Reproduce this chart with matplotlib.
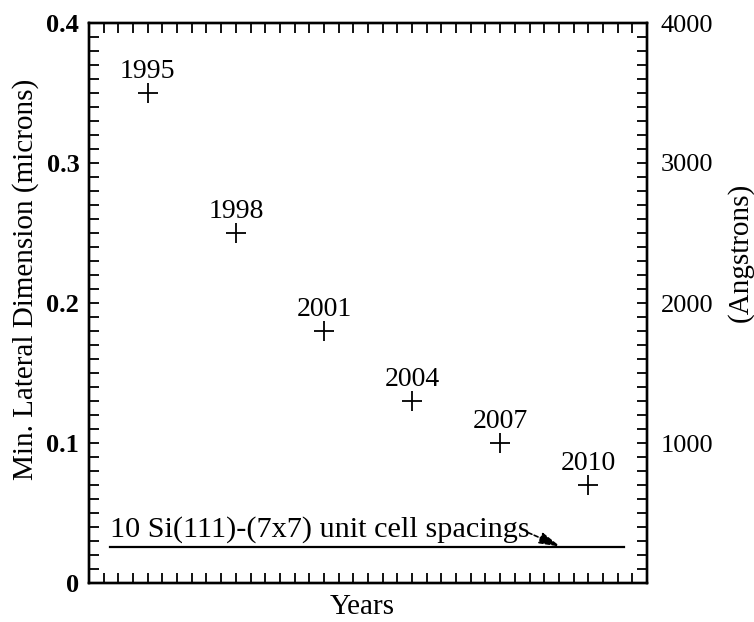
import matplotlib
matplotlib.use("Agg")
import matplotlib.pyplot as plt
from matplotlib.ticker import MultipleLocator, FixedLocator

plt.rcParams['font.family'] = ['Liberation Serif', 'DejaVu Serif']

years = [1995, 1998, 2001, 2004, 2007, 2010]
min_dim_microns = [0.35, 0.25, 0.18, 0.13, 0.10, 0.07]
year_labels = ["1995", "1998", "2001", "2004", "2007", "2010"]
si_line_value = 0.026
si_line_years = [1993.7, 2011.2]
si_text = "10 Si(111)-(7x7) unit cell spacings"
left_ticks = [0, 0.1, 0.2, 0.3, 0.4]
left_tick_labels = ["0", "0.1", "0.2", "0.3", "0.4"]
right_ticks = [1000, 2000, 3000, 4000]
right_tick_labels = ["1000", "2000", "3000", "4000"]

fig = plt.figure(figsize=(7.54, 6.22), dpi=100)
ax = fig.add_axes([89/754, 1-583/622, (647-89)/754, (583-23)/622])

ax.plot(years, min_dim_microns, linestyle='none', marker='+', color='black',
        markersize=14, markeredgewidth=1.3)
for x, y, lab in zip(years, min_dim_microns, year_labels):
    ax.annotate(lab, (x, y), xytext=(0, 11), textcoords='offset points',
                ha='center', va='baseline', fontsize=20)

ax.plot(si_line_years, [si_line_value, si_line_value], color='black', lw=1.6)
ax.text(1993.7, 0.033, si_text, fontsize=21.8, ha='left', va='baseline')
ax.annotate('', xy=(2009.05, si_line_value), xytext=(2007.95, 0.036),
            arrowprops=dict(arrowstyle='-|>,head_length=1.3,head_width=0.35',
                            color='black', lw=1.2, linestyle=(0, (2.5, 1.5)),
                            shrinkA=0, shrinkB=0))

ax.set_xlim(1993, 2012)
ax.set_ylim(0, 0.4)
ax.xaxis.set_major_locator(MultipleLocator(0.5))
ax.xaxis.set_ticklabels([])
ax.yaxis.set_major_locator(FixedLocator(left_ticks))
ax.set_yticklabels(left_tick_labels, fontsize=19, fontweight='bold')
ax.yaxis.set_minor_locator(MultipleLocator(0.01))
ax.tick_params(axis='x', which='both', direction='in', top=True, bottom=True,
               length=7, width=1.3)
ax.tick_params(axis='y', which='both', direction='in', left=True, right=False,
               length=7, width=1.3, pad=7)
for s in ax.spines.values():
    s.set_linewidth(1.7)

ax2 = ax.twinx()
ax2.set_ylim(0, 4000)
ax2.yaxis.set_major_locator(FixedLocator(right_ticks))
ax2.set_yticklabels(right_tick_labels, fontsize=19)
ax2.yaxis.set_minor_locator(MultipleLocator(100))
ax2.tick_params(axis='y', which='both', direction='in', length=7, width=1.3, pad=10)
for s in ax2.spines.values():
    s.set_linewidth(1.7)

fig.text(26/754, 1-279/622, "Min. Lateral Dimension (microns)", rotation=90,
         ha='center', va='center', fontsize=21)
fig.text(740/754, 1-252/622, "(Angstrons)", rotation=90,
         ha='center', va='center', fontsize=21)
fig.text(362/754, 1-607/622, "Years", ha='center', va='center', fontsize=21)

fig.savefig("out.png", dpi=100)
